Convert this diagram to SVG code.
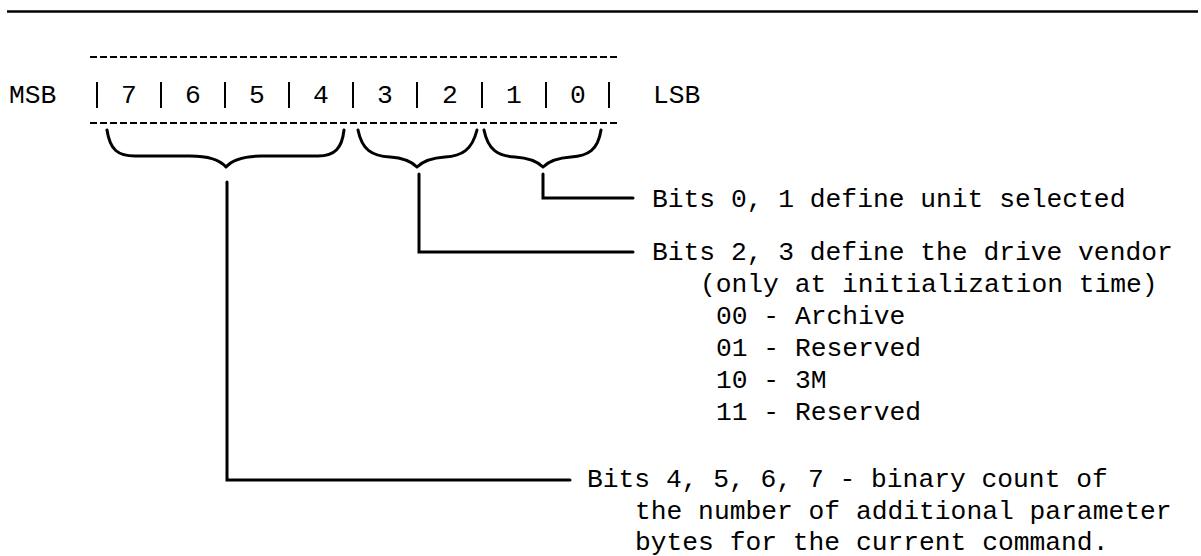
<svg xmlns="http://www.w3.org/2000/svg" width="1201" height="556" viewBox="0 0 1201 556">
<style>
text{font-family:"Liberation Mono","DejaVu Sans Mono",monospace;font-size:26.3px;fill:#000}
.d{text-anchor:middle}
.rule{stroke:#000;stroke-width:2.5;fill:none}
.dash{stroke:#000;stroke-width:2;stroke-dasharray:7 3;fill:none}
.bar{stroke:#000;stroke-width:2;fill:none}
.brace{stroke:#000;stroke-width:3;fill:none;stroke-linecap:round;stroke-linejoin:round}
.conn{stroke:#000;stroke-width:3;fill:none;stroke-linecap:round}
</style>
<line class="rule" x1="7" y1="11.5" x2="1198" y2="11.5"/>
<g id="register">
<text x="9" y="103">MSB</text>
<text x="653" y="103">LSB</text>
<line class="dash" x1="90" y1="57" x2="617" y2="57"/>
<line class="dash" x1="90" y1="123" x2="617" y2="123"/>
<g>
<line class="bar" x1="97" y1="82" x2="97" y2="108"/>
<line class="bar" x1="161" y1="82" x2="161" y2="108"/>
<line class="bar" x1="225" y1="82" x2="225" y2="108"/>
<line class="bar" x1="289" y1="82" x2="289" y2="108"/>
<line class="bar" x1="353" y1="82" x2="353" y2="108"/>
<line class="bar" x1="417" y1="82" x2="417" y2="108"/>
<line class="bar" x1="482" y1="82" x2="482" y2="108"/>
<line class="bar" x1="546" y1="82" x2="546" y2="108"/>
<line class="bar" x1="609" y1="82" x2="609" y2="108"/>
</g>
<text class="d" x="129" y="103">7</text>
<text class="d" x="193" y="103">6</text>
<text class="d" x="257" y="103">5</text>
<text class="d" x="321" y="103">4</text>
<text class="d" x="385" y="103">3</text>
<text class="d" x="450" y="103">2</text>
<text class="d" x="514" y="103">1</text>
<text class="d" x="578" y="103">0</text>
</g>
<g id="braces">
<path class="brace" d="M107,130 C110,150 118,156 135,156 L190,156 C210,156 220,160 226,167 C232,160 242,156 262,156 L318,156 C335,156 342,148 344,130"/>
<path class="brace" d="M358,130 C362,150 372,156 390,157 C405,158 412,162 417,167 C422,162 430,158 445,157 C462,156 472,150 477,130"/>
<path class="brace" d="M484,130 C488,150 498,156 515,157 C530,158 538,162 543,167 C548,162 556,158 571,157 C588,156 598,150 601,130"/>
</g>
<g id="connectors">
<polyline class="conn" points="227,182 227,480 570,480"/>
<polyline class="conn" points="419,174 419,252 633,252"/>
<polyline class="conn" points="543,174 543,198 633,198"/>
</g>
<g id="note-bits01">
<text x="652" y="207">Bits 0, 1 define unit selected</text>
</g>
<g id="note-bits23">
<text x="652" y="260">Bits 2, 3 define the drive vendor</text>
<text x="700" y="292">(only at initialization time)</text>
<text x="716" y="324">00 - Archive</text>
<text x="716" y="356">01 - Reserved</text>
<text x="716" y="388">10 - 3M</text>
<text x="716" y="420">11 - Reserved</text>
</g>
<g id="note-bits4567">
<text x="587" y="487">Bits 4, 5, 6, 7 - binary count of</text>
<text x="635" y="519">the number of additional parameter</text>
<text x="635" y="550">bytes for the current command.</text>
</g>
</svg>
